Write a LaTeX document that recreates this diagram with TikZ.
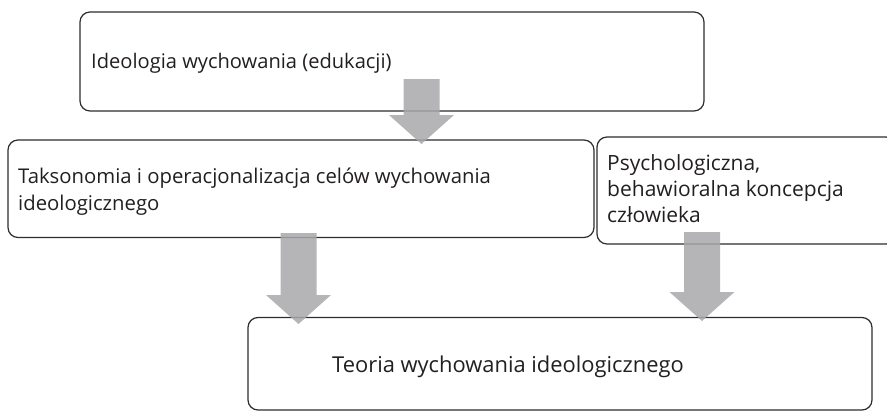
\documentclass[tikz,border=0pt]{standalone}
\usepackage{fontspec}
\setmainfont{Open Sans}
\usetikzlibrary{calc}
\definecolor{boxline}{RGB}{45,45,45}
\definecolor{arrowgray}{RGB}{168,168,172}
\definecolor{textcol}{RGB}{35,31,32}
\tikzset{
  box/.style={draw=boxline, line width=1.2pt, rounded corners=10pt},
  label/.style={anchor=base west, inner sep=0pt, align=left, text=textcol},
  fatarrow/.style={fill=arrowgray, fill opacity=0.85, draw=none}
}
\newcommand\fatarrow[2]{%
  \fill[fatarrow] ($(#1)+(-18,0)$) -- ($(#2)+(-18,-29)$) -- ($(#2)+(-32.5,-29)$) --
    (#2) -- ($(#2)+(32.5,-29)$) -- ($(#2)+(18,-29)$) -- ($(#1)+(18,0)$) -- cycle;}
\begin{document}
\begin{tikzpicture}[x=1pt,y=-1pt]
\useasboundingbox (0,0) rectangle (887,413);
\clip (0,0) rectangle (887,413);
% boxes
\draw[box] (80,12) rectangle (704,111);
\coordinate (b1) at (392,61.5);
\draw[box] (8,140) rectangle (594,237.5);
\coordinate (b2) at (301,188.75);
\draw[box] (597,137) rectangle (896,244);
\coordinate (b3) at (746,190.5);
\draw[box] (248,317.5) rectangle (872,410);
\coordinate (b4) at (560,363.75);
% texts (base = baseline of the last line)
\node[label, font=\fontsize{20.1}{27}\selectfont] (t1) at (91,68) {Ideologia wychowania (edukacji)};
\node[label, font=\fontsize{20.3}{27}\selectfont] (t2) at (18,210)
  {Taksonomia i operacjonalizacja celów wychowania\\ideologicznego};
\node[label, font=\fontsize{21}{26}\selectfont] (t3) at (607,222)
  {Psychologiczna,\\behawioralna koncepcja\\człowieka};
\node[label, font=\fontsize{21.9}{26}\selectfont] (t4) at (332,372) {Teoria wychowania ideologicznego};
% arrows
\coordinate (a1s) at (421.5,79);  \coordinate (a1e) at (421.5,144);
\coordinate (a2s) at (298.5,233); \coordinate (a2e) at (298.5,324);
\coordinate (a3s) at (702,232);   \coordinate (a3e) at (702,321);
\fatarrow{a1s}{a1e}
\fatarrow{a2s}{a2e}
\fatarrow{a3s}{a3e}
\end{tikzpicture}
\end{document}
